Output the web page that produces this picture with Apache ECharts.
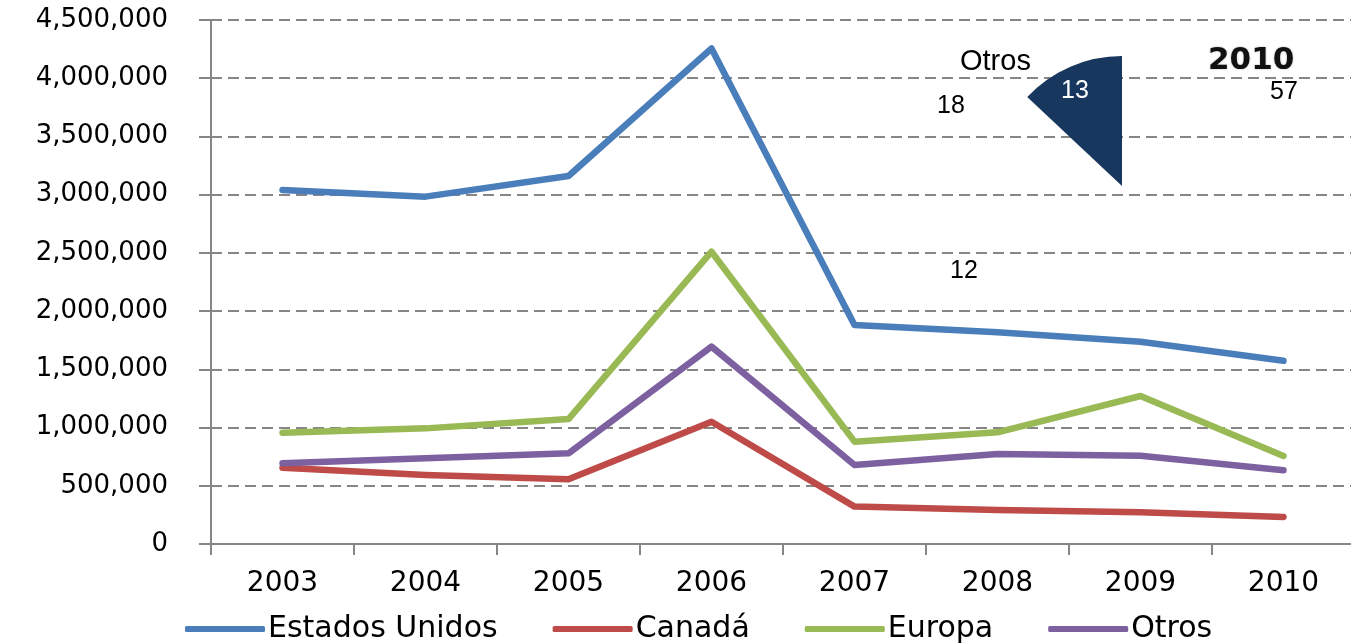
<!DOCTYPE html>
<html>
<head>
<meta charset="utf-8">
<script src="https://cdn.jsdelivr.net/npm/echarts@6/dist/echarts.min.js"></script>
<style>
html,body{margin:0;padding:0;background:#fff;overflow:hidden;width:1351px;height:643px;}
#chart{width:1357px;height:643px;}
</style>
</head>
<body>
<div id="chart"></div>
<script>
// ---- data ----
const years = ['2003','2004','2005','2006','2007','2008','2009','2010'];
const estadosUnidos = [3040000, 2983000, 3160000, 4255000, 1881000, 1818000, 1737000, 1574000];
const canada        = [655000, 593000, 556000, 1050000, 321000, 292000, 272000, 232000];
const europa        = [956000, 993000, 1073000, 2510000, 879000, 959000, 1271000, 756000];
const otros         = [693000, 736000, 779000, 1695000, 678000, 773000, 758000, 633000];
const seriesNames = ['Estados Unidos', 'Canadá', 'Europa', 'Otros'];
// 2010 share (%) shown in the embedded pie
const pieYear = '2010';
const pieNames = ['Estados Unidos', 'Canadá', 'Europa', 'Otros'];
const pieValues = [57, 12, 18, 13];

// ---- styles ----
const colors = ['#4A7EBB', '#BE4B48', '#98B954', '#7D60A0'];
const gray = '#868686';
const pieLabelPos = [[1284, 92], [964, 271], [951, 106], [1075, 91]];

const chart = echarts.init(document.getElementById('chart'));
function fmt(v){ return String(v).replace(/\B(?=(\d{3})+(?!\d))/g, ','); }

const lineData = [estadosUnidos, canada, europa, otros];
const lineSeries = seriesNames.map((n, i) => ({
  name: n,
  type: 'line',
  data: lineData[i],
  symbol: 'none',
  smooth: false,
  z: 3,
  lineStyle: { color: colors[i], width: 6.5, cap: 'round', join: 'round' },
  itemStyle: { color: colors[i] }
}));

const option = {
  animation: false,
  backgroundColor: '#fff',
  color: colors,
  grid: { left: 211, top: 20, bottom: 99, right: 2, containLabel: false },
  xAxis: {
    type: 'category',
    data: years,
    boundaryGap: true,
    axisLine: { show: true, lineStyle: { color: gray, width: 2 } },
    axisTick: { show: true, length: 11, lineStyle: { color: gray, width: 2 } },
    axisLabel: { margin: 26, fontFamily: 'DejaVu Sans', fontSize: 28, color: '#000' },
    splitLine: { show: false }
  },
  yAxis: {
    type: 'value',
    min: 0, max: 4500000, interval: 500000,
    axisLine: { show: true, lineStyle: { color: gray, width: 2 } },
    axisTick: { show: true, length: 12, lineStyle: { color: gray, width: 2 } },
    axisLabel: { margin: 43, fontFamily: 'DejaVu Sans', fontSize: 26, color: '#000', formatter: fmt },
    splitLine: { show: true, lineStyle: { color: gray, width: 2, type: [11, 6] } }
  },
  legend: {
    data: seriesNames,
    left: 180,
    bottom: -6,
    itemWidth: 80,
    itemHeight: 6,
    itemGap: 55,
    icon: 'roundRect',
    textStyle: { fontFamily: 'DejaVu Sans', fontSize: 30, color: '#000', padding: [0, 0, 0, -2] }
  },
  graphic: [
    { type: 'text', left: 960, top: 47, style: { text: pieNames[3], fontFamily: 'Liberation Sans', fontSize: 29, fill: '#000' }, z: 10 },
    { type: 'text', left: 1208, top: 45, style: { text: pieYear, fontFamily: 'DejaVu Sans', fontWeight: 'bold', fontSize: 31, fill: '#111', textShadowColor: 'rgba(0,0,0,0.35)', textShadowBlur: 2 }, z: 10 }
  ],
  series: lineSeries.concat([{
    type: 'pie',
    name: pieYear,
    center: [1122, 186],
    radius: [0, 130],
    startAngle: 90,
    clockwise: true,
    z: 5,
    silent: true,
    data: pieNames.map((n, i) => ({
      name: n,
      value: pieValues[i],
      itemStyle: { color: i === 3 ? '#17375E' : 'rgba(0,0,0,0)' },
      label: { color: i === 3 ? '#fff' : '#000' }
    })),
    label: {
      show: true,
      position: 'outside',
      formatter: '{c}',
      fontFamily: 'Liberation Sans',
      fontSize: 25
    },
    labelLine: { show: false },
    labelLayout: function (p) {
      const pos = pieLabelPos[p.dataIndex];
      return { x: pos[0], y: pos[1], align: 'center', verticalAlign: 'middle' };
    }
  }])
};
chart.setOption(option);
</script>
</body>
</html>
